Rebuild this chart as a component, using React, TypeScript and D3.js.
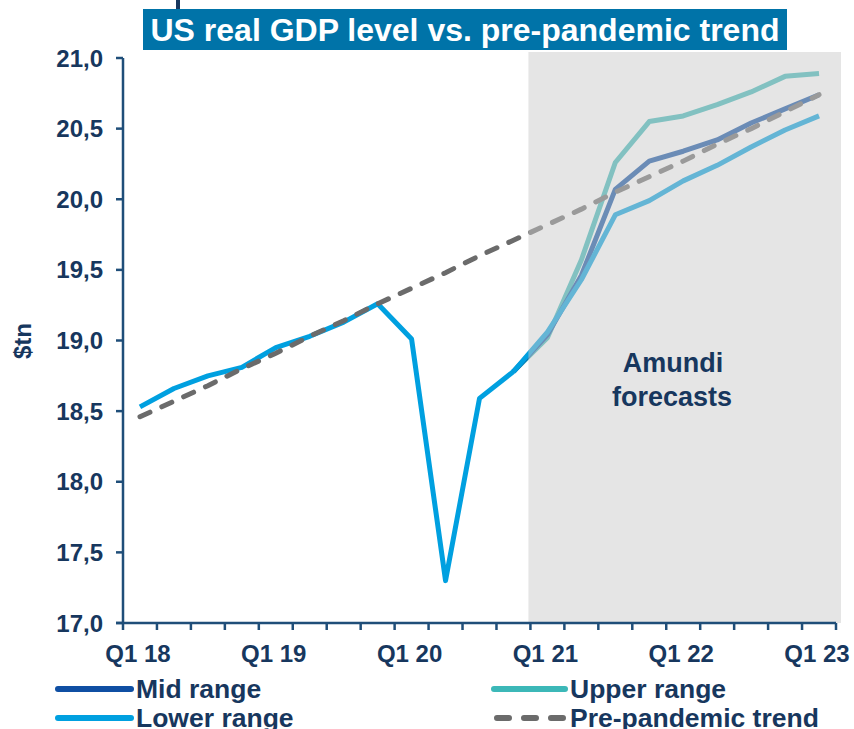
import React from "react";
import * as d3 from "d3";

const quarters = [
  "Q1 18","Q2 18","Q3 18","Q4 18",
  "Q1 19","Q2 19","Q3 19","Q4 19",
  "Q1 20","Q2 20","Q3 20","Q4 20",
  "Q1 21","Q2 21","Q3 21","Q4 21",
  "Q1 22","Q2 22","Q3 22","Q4 22",
  "Q1 23",
];
const xTickLabels = ["Q1 18", "Q1 19", "Q1 20", "Q1 21", "Q1 22", "Q1 23"];
const yTicks = [17, 17.5, 18, 18.5, 19, 19.5, 20, 20.5, 21];

// Actual GDP (Q1 18 .. Q4 20)
const history = [18.53, 18.66, 18.75, 18.81, 18.95, 19.03, 19.13, 19.26, 19.01, 17.30, 18.59, 18.78];
// Forecast scenarios (Q4 20 .. Q1 23)
const forecastStart = 11;
const upperRange = [18.78, 19.02, 19.57, 20.26, 20.55, 20.59, 20.67, 20.76, 20.87, 20.89];
const midRange = [18.78, 19.04, 19.46, 20.07, 20.27, 20.34, 20.42, 20.54, 20.64, 20.74];
const lowerRange = [18.78, 19.06, 19.43, 19.89, 19.99, 20.13, 20.24, 20.37, 20.49, 20.59];
// Pre-pandemic trend (Q1 18 .. Q1 23)
const trend = [18.46, 18.57, 18.68, 18.80, 18.91, 19.03, 19.14, 19.26, 19.37, 19.48, 19.60,
  19.71, 19.82, 19.93, 20.05, 20.16, 20.27, 20.39, 20.50, 20.62, 20.74];

const NAVY = "#17375e";
const AXIS = "#1f4e79";
const C_MID = "#0f4fa3";
const C_UPPER = "#3cb8b8";
const C_LOWER = "#00a0e0";
const C_TREND = "#6b6b6b";
const FONT = "'Liberation Sans', Arial, sans-serif";

export default function App() {
  const x = d3.scaleBand<string>().domain(quarters).range([123, 836]).padding(0);
  const y = d3.scaleLinear().domain([17, 21]).range([623, 58]);
  const cx = (i: number) => (x(quarters[i]) as number) + x.bandwidth() / 2;

  const line = d3
    .line<[number, number]>()
    .x((d) => cx(d[0]))
    .y((d) => y(d[1]));

  const seriesPts = (vals: number[], start: number) =>
    vals.map((v, k) => [start + k, v] as [number, number]);

  const fmt = (v: number) => d3.format(".1f")(v).replace(".", ",");
  const shadeX = (x("Q1 21") as number) - 2;
  const x0 = x.range()[0];
  const x1 = x.range()[1];

  return (
    <svg
      width={854}
      height={729}
      style={{ position: "absolute", left: 0, top: 0, background: "#fff" }}
      fontFamily={FONT}
    >
      {/* cropped fragment above title */}
      <rect x={176} y={0} width={4} height={11} fill={NAVY} />
      {/* title */}
      <rect x={143} y={9} width={644} height={41} fill="#0073a8" />
      <text x={465} y={41} textAnchor="middle" fill="#fff" fontWeight="bold" fontSize={32}>
        US real GDP level vs. pre-pandemic trend
      </text>

      {/* lines */}
      <path d={line(seriesPts(upperRange, forecastStart)) || ""} fill="none" stroke={C_UPPER} strokeWidth={5} strokeLinejoin="round" />
      <path d={line(seriesPts(midRange, forecastStart)) || ""} fill="none" stroke={C_MID} strokeWidth={5} strokeLinejoin="round" />
      <path d={line(seriesPts(lowerRange, forecastStart)) || ""} fill="none" stroke={C_LOWER} strokeWidth={5} strokeLinejoin="round" />
      <path d={line(seriesPts(history, 0)) || ""} fill="none" stroke={C_LOWER} strokeWidth={5} strokeLinejoin="round" />
      <path d={line(seriesPts(trend, 0)) || ""} fill="none" stroke={C_TREND} strokeWidth={5} strokeDasharray="11 13" strokeLinecap="round" />

      {/* forecast shading overlay */}
      <rect x={shadeX} y={52} width={841 - shadeX} height={y(17) - 52} fill="#cacaca" fillOpacity={0.493} />
      <text x={673} y={372} textAnchor="middle" fill={NAVY} fontWeight="bold" fontSize={27}>Amundi</text>
      <text x={672} y={406} textAnchor="middle" fill={NAVY} fontWeight="bold" fontSize={27}>forecasts</text>

      {/* y axis */}
      <line x1={x0} x2={x0} y1={y(21)} y2={y(17)} stroke={AXIS} strokeWidth={2.5} />
      {yTicks.map((t) => (
        <g key={t}>
          <line x1={x0 - 7} x2={x0} y1={y(t)} y2={y(t)} stroke={AXIS} strokeWidth={2.5} />
          <text x={103} y={y(t) + 8.5} textAnchor="end" fill={NAVY} fontWeight="bold" fontSize={24}>
            {fmt(t)}
          </text>
        </g>
      ))}
      <text transform={`translate(31,341) rotate(-90)`} textAnchor="middle" fill={NAVY} fontWeight="bold" fontSize={24}>
        $tn
      </text>

      {/* x axis */}
      <line x1={x0 - 7} x2={x1} y1={y(17)} y2={y(17)} stroke={AXIS} strokeWidth={2.5} />
      {quarters.concat(["end"]).map((q, i) => {
        const xx = i < quarters.length ? (x(q) as number) : x1;
        return <line key={q} x1={xx} x2={xx} y1={y(17)} y2={y(17) + 7} stroke={AXIS} strokeWidth={2.5} />;
      })}
      {xTickLabels.map((q) => (
        <text key={q} x={(x(q) as number) + x.bandwidth() / 2 - 2} y={662} textAnchor="middle" fill={NAVY} fontWeight="bold" fontSize={24}>
          {q}
        </text>
      ))}

      {/* legend */}
      <line x1={58} x2={131} y1={689} y2={689} stroke={C_MID} strokeWidth={6} strokeLinecap="round" />
      <text x={136} y={698} fill={NAVY} fontWeight="bold" fontSize={26.5}>Mid range</text>
      <line x1={58} x2={131} y1={718} y2={718} stroke={C_LOWER} strokeWidth={6} strokeLinecap="round" />
      <text x={136} y={727} fill={NAVY} fontWeight="bold" fontSize={26.5}>Lower range</text>
      <line x1={494} x2={565} y1={689} y2={689} stroke={C_UPPER} strokeWidth={6} strokeLinecap="round" />
      <text x={570} y={698} fill={NAVY} fontWeight="bold" fontSize={26.5}>Upper range</text>
      <line x1={497} x2={563} y1={718} y2={718} stroke={C_TREND} strokeWidth={6} strokeLinecap="round" strokeDasharray="12 15" />
      <text x={570} y={727} fill={NAVY} fontWeight="bold" fontSize={26.5}>Pre-pandemic trend</text>
    </svg>
  );
}
